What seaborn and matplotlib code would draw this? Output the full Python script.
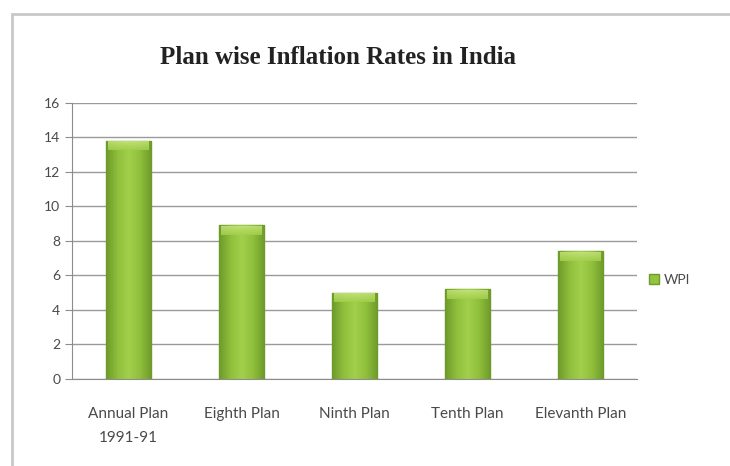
import numpy as np
import pandas as pd
import seaborn as sns
import matplotlib.pyplot as plt
from matplotlib.patches import Rectangle
from matplotlib.colors import LinearSegmentedColormap

# Values
plans = ['Annual Plan\n1991-91', 'Eighth Plan', 'Ninth Plan', 'Tenth Plan', 'Elevanth Plan']
wpi = [13.8, 8.9, 5.0, 5.2, 7.4]
y_ticks = [0, 2, 4, 6, 8, 10, 12, 14, 16]

data = pd.DataFrame({'Plan': plans, 'WPI': wpi})

sns.set_style('white')
plt.rcParams['font.family'] = ['Lato', 'DejaVu Sans']

fig = plt.figure(figsize=(7.3, 4.66), dpi=100)
ax = fig.add_axes([0.0986, 0.1867, 0.7740, 0.5923])

# Outer chart frame
fig.patches.append(Rectangle((12 / 730, -0.05), 1.0, 1 - 14 / 466 + 0.05,
                             transform=fig.transFigure, fill=False,
                             edgecolor='#C8C8C8', linewidth=2))

sns.barplot(data=data, x='Plan', y='WPI', color='#93C43F', width=0.4,
            edgecolor='#6F9A2C', linewidth=1.0, saturation=1, ax=ax, label='WPI')

# shaded look of the bars: darker sides, lighter middle, pale top cap
shade = LinearSegmentedColormap.from_list(
    'shade', ['#6E9A2A', '#8FBF3C', '#A3D04C', '#8FBF3C', '#6E9A2A'])
cap_shade = LinearSegmentedColormap.from_list('cap', ['#A3D04C', '#C6E47C'])
grad = np.linspace(0, 1, 64).reshape(1, -1)
vgrad = np.linspace(1, 0, 32).reshape(-1, 1)
for bar in ax.patches:
    x0, y0 = bar.get_x(), bar.get_y()
    w, h = bar.get_width(), bar.get_height()
    im = ax.imshow(grad, cmap=shade, aspect='auto', extent=(x0, x0 + w, y0, y0 + h),
                   zorder=bar.get_zorder() + 0.1)
    im.set_clip_path(bar)
    cap = ax.imshow(vgrad, cmap=cap_shade, aspect='auto', alpha=0.85,
                    extent=(x0 + w * 0.05, x0 + w * 0.95, y0 + h - 0.55, y0 + h - 0.03),
                    zorder=bar.get_zorder() + 0.2)
    cap.set_clip_path(bar)

ax.set_ylim(0, 16)
ax.set_xlim(-0.5, len(plans) - 0.5)
ax.set_yticks(y_ticks)
ax.yaxis.grid(True, color='#9A9A9A', linewidth=1)
ax.set_axisbelow(True)
for side in ['top', 'right']:
    ax.spines[side].set_visible(False)
ax.spines['left'].set_color('#8C8C8C')
ax.spines['bottom'].set_color('#8C8C8C')

# category boundary ticks on the x axis
ax.set_xticks([i - 0.5 for i in range(len(plans) + 1)], minor=True)
ax.tick_params(axis='x', which='minor', length=5, color='#8C8C8C', direction='out')
ax.tick_params(axis='x', which='major', length=0, pad=20, labelsize=11, labelcolor='#4A4A4A')
ax.tick_params(axis='y', length=5, color='#8C8C8C', direction='out', labelsize=10,
               labelcolor='#4A4A4A', left=True)
for lbl in ax.get_xticklabels():
    lbl.set_linespacing(1.9)
ax.set_xlabel('')
ax.set_ylabel('')

fig.text(338 / 730, 1 - 58 / 466, 'Plan wise Inflation Rates in India',
         family='Liberation Serif', fontweight='bold', fontsize=18,
         ha='center', va='center', color='#222222')

handles, labels = ax.get_legend_handles_labels()
ax.legend(handles[:1], labels[:1], loc='center left', bbox_to_anchor=(1.0, 0.36), frameon=False,
          handlelength=0.7, handleheight=0.7, handletextpad=0.3,
          prop={'size': 10}, labelcolor='#4A4A4A')

fig.savefig('out.png', dpi=100)
